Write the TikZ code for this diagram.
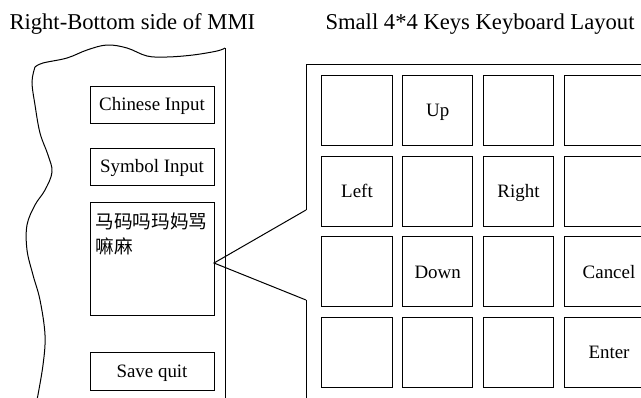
\documentclass[tikz,border=0pt]{standalone}
\usepackage{fontspec}
\setmainfont{Liberation Serif}
\newfontfamily\cjk{Noto Sans CJK SC}
\begin{document}
\begin{tikzpicture}[x=1bp, y=-1bp, line width=1bp,
  labelfont/.style={font=\fontsize{19}{23}\selectfont, text height=12.6bp, text depth=0pt},
  menubox/.style={draw, labelfont, minimum width=124bp, inner sep=0pt},
  keybox/.style={draw, labelfont, minimum height=70bp, inner sep=0pt},
  heading/.style={font=\fontsize{22.7}{27}\selectfont, inner sep=0pt, anchor=base west}]
\useasboundingbox (0,0) rectangle (641,397);
\clip (0,0) rectangle (641,397);

% headings
\node[heading] (hleft) at (9,29) {Right-Bottom side of MMI};
\node[heading] (hright) at (325,29) {Small 4*4 Keys Keyboard Layout};

% torn-off corner of the MMI screen
\draw plot[smooth, tension=0.6] coordinates {(225,48) (217,51) (193,55) (167,57) (147,56) (127,48) (107,45) (87,50) (67,58) (43,63) (35,67)};
\draw plot[smooth, tension=0.6] coordinates {(35,67) (32,82) (35,105) (40,133) (48,155) (52,172) (45,190) (35,205) (27,225) (27,250) (33,275) (40,300) (45,335) (43,365) (37,400)};
\coordinate (edgetop) at (225,48);
\coordinate (edgebot) at (225,400);
\draw (edgetop) -- (edgebot);

% menu entries
\node[menubox, minimum height=37bp] (chin) at (152,104.5) {Chinese Input};
\node[menubox, minimum height=37bp] (sym) at (152,166.5) {Symbol Input};
\node[menubox, minimum height=113bp] (chars) at (152,258.5) {};
\node[anchor=north west, inner sep=0pt, align=left,
      font={\cjk\fontsize{18.7}{25}\selectfont}] (hz) at (95,212) {马码吗玛妈骂\\嘛麻};
\node[menubox, minimum height=38bp] (save) at (152,371) {Save quit};

% call-out to the keyboard
\coordinate (tip) at (214,263);
\coordinate (fa) at (306,210);
\coordinate (fb) at (306,300);
\coordinate (ftop) at (306,64);
\coordinate (fright) at (660,64);
\coordinate (fbot) at (306,400);
\draw (fa) -- (tip) -- (fb);
\draw (fa) -- (ftop) -- (fright);
\draw (fb) -- (fbot);

% 4x4 keys
\foreach \r/\y in {1/110,2/191,3/271.7,4/352.2}{
  \foreach \c/\x in {1/357,2/437.7,3/518.5}{
    \node[keybox, minimum width=70.5bp] (k\r\c) at (\x,\y) {};
  }
  \node[keybox, minimum width=89.4bp] (k\r4) at (609,\y) {};
}
\node[labelfont] (lup) at (k12) {Up};
\node[labelfont] (lleft) at (k21) {Left};
\node[labelfont] (lright) at (k23) {Right};
\node[labelfont] (ldown) at (k32) {Down};
\node[labelfont] (lcancel) at (k34) {Cancel};
\node[labelfont] (lenter) at (k44) {Enter};
\end{tikzpicture}
\end{document}
